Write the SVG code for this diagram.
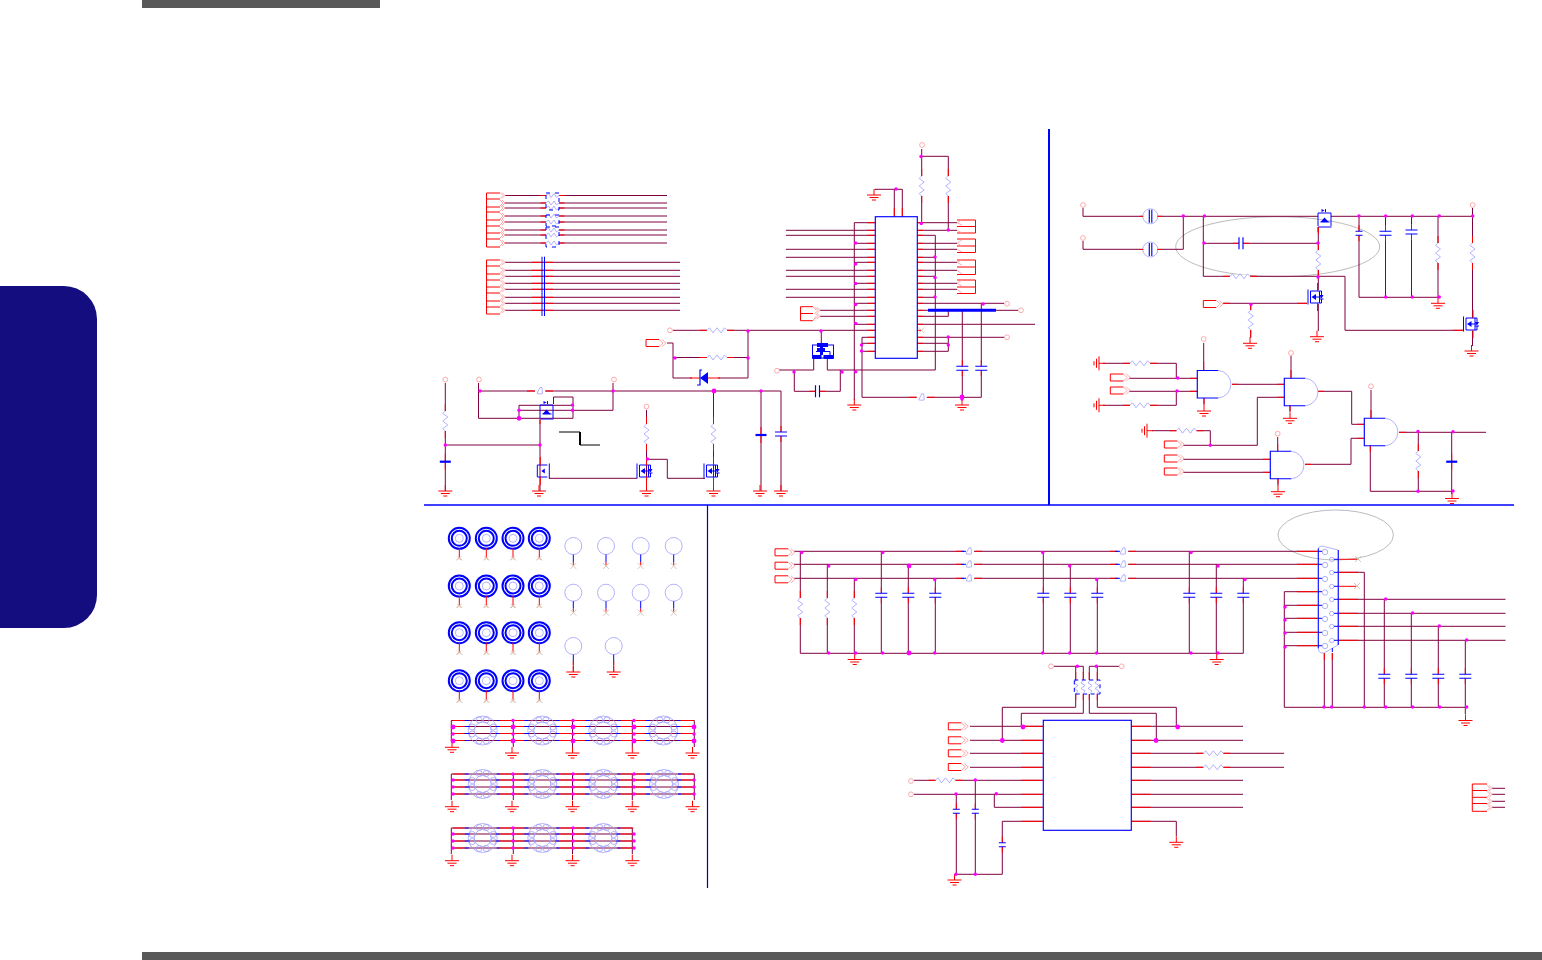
<svg xmlns="http://www.w3.org/2000/svg" width="1542" height="960" viewBox="0 0 1542 960">
<style>
.w{fill:none;stroke:#800040;stroke-width:1}
.r{fill:none;stroke:#f00;stroke-width:1}
.b{fill:none;stroke:#00f;stroke-width:1}
.bb{fill:none;stroke:#00f;stroke-width:1.15}
.p{fill:none;stroke:#a0a0ff;stroke-width:.8}
.g{fill:none;stroke:#aaa;stroke-width:.8}
.q{fill:none;stroke:#ffa0a0;stroke-width:.9}
.x{fill:none;stroke:#d8b8a8;stroke-width:.8}
.f{fill:#00f}
.d{fill:#f0f}
</style>
<defs>
<circle id="dot" r="1.7" class="d"/>
<circle id="big" r="2.4" class="d"/>
<circle id="pc" r="2.4" fill="#fff" class="q"/>
<g id="chev"><path class="q" d="M0-3L3 0L0 3M2-3L5 0L2 3"/></g>
<g id="port"><path class="r" d="M13-3.5H0V3.5H13"/><path class="q" d="M13-3.5L17 0L13 3.5M16-3.5L20 0L16 3.5"/></g>
<g id="gnd"><path class="r" d="M0-6V0M-7 0H7M-4.5 2.5H4.5M-2 5H2"/></g>
<g id="gndl"><path class="r" d="M6 0H0M0-7V7M-2.5-4.5V4.5M-5-2V2"/></g>
<g id="rh"><rect x="-10" y="-1.5" width="20" height="3" fill="#fff"/><path class="r" d="M-17 0H-10M10 0H17"/><path class="p" d="M-10 0L-7.5-2.5L-4 2.5L0-2.5L4 2.5L7.5-2.5L10 0"/></g>
<g id="rv"><rect x="-1.5" y="-10" width="3" height="20" fill="#fff"/><path class="r" d="M0-17V-10M0 10V17"/><path class="p" d="M0-10L-2.5-7.5L2.5-4L-2.5 0L2.5 4L-2.5 7.5L0 10"/></g>
<g id="rs"><rect x="-6.5" y="-1.5" width="13" height="3" fill="#fff"/><path class="r" d="M-12 0H-6.5M6.5 0H12"/><path class="p" d="M-6.5 0L-4-2L-1.5 2L1.5-2L4 2L6.5 0"/></g>
<g id="rp"><rect x="-1.5" y="-6.5" width="3" height="13" fill="#fff"/><path class="p" d="M0-6.5L-2-4L2-1.5L-2 1.5L2 4L0 6.5"/></g>
<g id="cv"><rect x="-1" y="-2" width="2" height="4" fill="#fff"/><path class="r" d="M0-8V-2M0 2V8"/><path class="bb" d="M-6-2H6M-6 2H6"/></g>
<g id="cvn"><rect x="-1" y="-2" width="2" height="4" fill="#fff"/><path class="r" d="M0-8V-2M0 2V8"/><path class="bb" d="M-3.5-2H3.5M-3.5 2H3.5"/></g>
<g id="ch"><rect x="-2" y="-1" width="4" height="2" fill="#fff"/><path class="r" d="M-8 0H-2M2 0H8"/><path class="bb" d="M-2-6V6M2-6V6"/></g>
<g id="cf"><path class="r" d="M0-8V8"/><path class="b" style="stroke-width:2.2" d="M-5.5 0H5.5"/></g>
<g id="fuse"><circle r="7.5" fill="#fff" class="p"/><path class="r" d="M-11 0H-7M7 0H12"/><path class="bb" d="M-1-6.5V6.5M1.5-6.5V6.5"/></g>
<g id="bead"><rect x="-5" y="-1.5" width="10" height="3" fill="#fff"/><path class="r" d="M-13 0H-8M6 0H13"/><path class="b" d="M-8 0H-3"/><path class="p" d="M-3 2.5L0-3.5L2-3.5L2.5 2.5Q0 3.5-3 2.5Z" fill="#fff"/></g>
<g id="beadp"><rect x="-5" y="-1.5" width="10" height="3" fill="#fff"/><path class="r" d="M-13 0H-5M6 0H13"/><path class="p" d="M-3 2.5L0-3.5L2-3.5L2.5 2.5Q0 3.5-3 2.5Z" fill="#fff"/></g>
<g id="mosn"><path class="b" d="M-9.5-7.5V7.5M-7-6H2V6H-7Z"/><path class="r" d="M0-14V-6M0 6V14"/><path class="f" d="M-6 0L-1.5-3V3ZM2-2H6L4 1.5Z"/><path class="b" d="M2 2H6M-2 0H4V-6H2M4 2V6H2"/></g>
<g id="mosl"><path class="b" d="M9-7.5V7.5M7-6H-3V6H7"/><path class="r" d="M0-14V-6M0 6V14"/><path class="f" d="M1 0L4.5-2.5V2.5Z"/></g>
<g id="mosp"><path class="b" d="M-6.5 7V-6H6.5V7M-6.5 8H7" fill="none"/><path class="f" d="M-3-10L0-8.5L-3-7ZM-4 3L0-1.5L4 3Z"/><path class="b" d="M1-10V-7M-4 3H5"/><path class="r" d="M-6.5 8V13"/></g>
<g id="x"><path class="x" d="M-3 3L3-3M-3-3L3 3"/></g>
<g id="hole"><circle r="10.5" class="b" style="stroke-width:2" fill="#fff"/><circle r="7.5" cx="0" cy="0" class="b" style="stroke-width:2"/><circle r="4" class="p"/><path class="r" d="M0 10V19"/><path class="x" d="M-3 22L0 19L3 22M-2 18L2 22M2 18L-2 22"/></g>
<g id="pad"><circle r="8.5" fill="#fff" class="p"/><path class="b" d="M0 8.5V16"/><path class="r" d="M0 16V19"/></g>
<g id="ring"><circle r="14.5" fill="#fff" class="p"/><circle r="8.5" class="p"/><circle cx="-10.5" cy="-3.5" r="3" class="p"/><circle cx="-10.5" cy="3.5" r="3" class="p"/><circle cx="10.5" cy="-3.5" r="3" class="p"/><circle cx="10.5" cy="3.5" r="3" class="p"/><circle cx="-3.5" cy="-10.5" r="3" class="p"/><circle cx="3.5" cy="-10.5" r="3" class="p"/><circle cx="-3.5" cy="10.5" r="3" class="p"/><circle cx="3.5" cy="10.5" r="3" class="p"/><path class="r" d="M-30-10H-18M17-10H30M-30-4H-18M17-4H30M-30 3H-18M17 3H30M-30 10H-18M17 10H30"/><path class="b" d="M-18-10H-14M14-10H17M-18-4H-13M13-4H17M-18 3H-13M13 3H17M-18 10H-14M14 10H17"/></g>
<g id="gate"><path class="bb" d="M21 0H0V27.5H21"/><path class="p" d="M21 0A13.8 13.8 0 0 1 21 27.5"/></g>
</defs>

<g id="page">
<rect x="142" y="0" width="238" height="8" fill="#595959"/>
<rect x="142" y="952" width="1400" height="8" fill="#595959"/>
<path id="tab" d="M0 286H64A33 33 0 0 1 97 319V595A33 33 0 0 1 64 628H0Z" fill="#130d80"/>
<path d="M1049 129V505" stroke="#00f" stroke-width="2" fill="none"/>
<path d="M424 505H1514" stroke="#00f" stroke-width="1.6" fill="none"/>
<path d="M707.5 505V888" stroke="#0000b0" stroke-width="1.2" fill="none"/>
<ellipse cx="1277.7" cy="246.7" rx="102" ry="30" class="g"/>
<ellipse cx="1335.7" cy="535" rx="57.7" ry="25" class="g"/>
<path d="M559 432H580V445H600" fill="none" stroke="#000" stroke-width="1"/><path d="M580 432V445" stroke="#000" stroke-width="2"/>
</g>

<g id="connectors">
<path class="w" d="M505 195.5H667M505 203H667M505 208H667M505 216H667M505 222H667M505 230H667M505 235H667M505 243H667M505 262.3H680M505 270.3H680M505 276.3H680M505 283.3H680M505 289.3H680M505 297.3H680M505 303.3H680M505 310.3H680M673 330.3H875M667 343H673V378H748V330.3M673 357.5H748M478.5 383V418.3H573V397H553.5V404M519 405.3H573M519 410.3H613V383M519 405.3V418.3M480 391H781V491M445.3 383V491M445 445H540M540 420V491M549 478.3H637M646.5 410V491M647 459.3H667.3V478.3H705M713.5 391V491M761 391V491"/>
<path class="w" d="M786 230.3H875M786 235.3H875M786 249.3H875M786 257.3H875M786 270.3H875M786 276.3H875M786 289.3H875M786 297.3H875M854.3 222.7V400M854.3 222.7H875M854.3 243.3H875M854.3 262.3H875M854.3 283.3H875M854.3 303.3H875M854.3 324.3H875M820 310.3H875M820 316.3H875M862 337.3V397.3H981.3V303.3M862 337.3H875M862 343.3H875M862 351.3H875M917 222.7H957M917 230.3H957M917 243.3H957M917 249.3H957M917 262.3H957M917 270.3H957M917 283.3H957M917 289.3H957M917 235.3H935.3V370H827.3V359M917 257.3H935.3M917 276.3H935.3M917 297.3H935.3M917 303.3H1004M917 310.3H1018M917 316.3H948.3V310.3M917 324.3H1035M917 337.3H1004M948.3 337.3V351.3M917 343.3H948.3M917 351.3H948.3M962.3 310.3V400M921.7 149V222.7M921.7 156.3H948.3V230.3M894.3 216.7V189.3M902.3 216.7V189.3H875V190M779 370H813.7V359M794.3 370V391.3H840.3V370M821.3 343V330.3"/>
<path class="w" d="M1083 208V216.3H1143M1083 241V249.3H1143M1158 216.3H1318M1158 249.3H1183.3V216.3M1203.3 216.3V276.3H1345V330.3H1464M1204 243.3H1318.3M1318.3 227V290M1223 303.3H1307M1250.7 303.3V338M1318.3 304V331M1331 216.3H1472.7M1359 216.3V297.3H1438M1385.5 216.3V297.3M1411.5 216.3V297.3M1438 216.3V298M1472.5 208V318M1472.5 331V346"/>
<path class="w" d="M1129 378.3H1197M1129 391.3H1197M1103 363.3H1176.3V378.3M1176.3 391.3V405.3H1103M1203.7 343V370M1204 398V405M1232 384.3H1284.3M1291 356V378.3M1290 405.7V412M1284.3 397.3H1257.3V445.3H1183M1152 430.7H1210.3V445.3M1183 459.3H1270.3M1183 472.3H1270.3M1277.7 437V451.3M1278 478.7V486M1305 464.3H1351V438.3H1364.3M1318 391.3H1351.7V424.3H1364.3M1371 390V418.3M1370.3 445.7V491.3H1451.7M1399 432.3H1486M1418.3 432.3V491.3M1451.7 432.3V494"/>
<path class="w" d="M451.3 720.5V741M513.3 720.5V747M572.5 720.5V747M632.3 720.5V747M694.3 720.5V747M451.3 720.5H694.3M451.3 726.5H694.3M451.3 733.5H694.3M451.3 740.5H694.3M451.3 774V800M513.3 774V800M572.5 774V800M632.3 774V800M694.3 774V800M451.3 774H694.3M451.3 780H694.3M451.3 787H694.3M451.3 794H694.3M451.3 828V854M513.3 828V854M572.5 828V854M632.3 828V854M451.3 828H632.3M451.3 834H632.3M451.3 841H632.3M451.3 848H632.3"/>
<path class="w" d="M794 551.3H1318M794 564.3H1318M794 578.3H1318M800.3 551.3V653.3H1243.3V578.3M827.3 564.3V653.3M854.3 578.3V653.3M881.3 551.3V653.3M908.3 564.3V653.3M935.3 578.3V653.3M1043.3 551.3V653.3M1070.3 564.3V653.3M1097.3 578.3V653.3M1189.3 551.3V653.3M1216.3 564.3V653.3M1284.3 591.7V707.3H1465.3M1284.3 591.7H1318M1284.3 605.3H1318M1284.3 618.3H1318M1284.3 632.3H1318M1284.3 645.7H1318M1324.3 653V707.3M1332.3 653V707.3M1338 572.3H1364.3V707.3M1338 599.3H1505.5M1338 613.3H1505.5M1338 626.3H1505.5M1338 640.3H1505.5M1384.3 599.3V707.3M1411.3 613.3V707.3M1438.3 626.3V707.3M1465.3 640.3V714M1492 788.3H1505M1492 794.3H1505M1492 801.3H1505M1492 807.3H1505"/>
<path class="w" d="M970 726.3H1043M970 740.3H1043M970 753.3H1043M970 767.3H1043M914 780.3H1043M914 794.3H1043M994.3 794.3V807.3H1043M956.3 794.3V874.3H1002.3V821.3H1043M975.3 780.3V874.3M1054 666.3H1083.3V680M1075.7 666.3V707.3H1002.3V740.3M1083.3 694V713.3H1021.3V726.3M1089.3 680V666.3H1119M1089.3 694V713.3H1156.3V740.3M1097.3 666.3V707.3H1176.3V726.3M1131 726.3H1243M1131 740.3H1243M1131 753.3H1284M1131 767.3H1284M1131 780.3H1243M1131 794.3H1243M1131 807.3H1243M1131 821.3H1176.3V836"/>
<path class="r" d="M867.3 222.7H875.3M867.3 230.3H875.3M867.3 235.3H875.3M867.3 243.3H875.3M867.3 249.3H875.3M867.3 257.3H875.3M867.3 262.3H875.3M867.3 270.3H875.3M867.3 276.3H875.3M867.3 283.3H875.3M867.3 289.3H875.3M867.3 297.3H875.3M867.3 303.3H875.3M867.3 310.3H875.3M867.3 316.3H875.3M867.3 324.3H875.3M867.3 330.3H875.3M867.3 337.3H875.3M867.3 343.3H875.3M867.3 351.3H875.3M917.3 222.7H923M917.3 230.3H923M917.3 235.3H923M917.3 243.3H923M917.3 249.3H923M917.3 257.3H923M917.3 262.3H923M917.3 270.3H923M917.3 276.3H923M917.3 283.3H923M917.3 289.3H923M917.3 297.3H923M917.3 303.3H923M917.3 310.3H923M917.3 316.3H923M917.3 324.3H923M917.3 337.3H923M917.3 343.3H923M917.3 351.3H923M917.3 330.3H921M894.3 208V216.7M902.3 208V216.7"/>
<path class="r" d="M532 262.3H553M532 270.3H553M532 276.3H553M532 283.3H553M532 289.3H553M532 297.3H553M532 303.3H553M532 310.3H553M1190 378.3H1197.3M1190 391.3H1197.3M1277 384.3H1284.3M1277 397.3H1284.3M1263 459.3H1270.3M1263 472.3H1270.3M1357 424.3H1364.3M1357 438.3H1364.3M1399 432.3H1406M1232 384.3H1238M1318 391.3H1324M1305 464.3H1311M1297 551.3H1318M1297 564.3H1318M1297 578.3H1318M1297 591.7H1318M1297 605.3H1318M1297 618.3H1318M1297 632.3H1318M1297 645.7H1318M1338 559.3H1358M1338 572.3H1358M1338 586.3H1356M1338 599.3H1358M1338 613.3H1358M1338 626.3H1358M1338 640.3H1358M1324.3 653V660M1332.3 653V660M1021 726.3H1043M1021 740.3H1043M1021 753.3H1043M1021 767.3H1043M1021 780.3H1043M1021 794.3H1043M1021 807.3H1043M1021 821.3H1043M1131 726.3H1150.7M1131 740.3H1150.7M1131 753.3H1150.7M1131 767.3H1150.7M1131 780.3H1150.7M1131 794.3H1150.7M1131 807.3H1150.7M1131 821.3H1150.7M1075.7 672V680M1083.3 672V680M1089.3 672V680M1097.3 672V680M1075.7 694V700M1083.3 694V700M1089.3 694V700M1097.3 694V700"/>
<path class="r" d="M1464 330.3H1453M1318.3 227V234M1203.7 362V370M1204 398V404M1291 370V378.3M1290 405.7V411M1277.7 444V451.3M1278 478.7V484M1371 410V418.3M1370.3 445.7V452M1307 303.3H1297M1223 303.3H1230"/>
</g>

<g id="components">
<path id="port-stack-1" class="r" d="M500 193H486.5V247H500M486.5 199H500M486.5 207H500M486.5 212H500M486.5 220H500M486.5 226H500M486.5 233H500M486.5 239H500"/>
<path id="port-stack-2" class="r" d="M500 260H486.5V314H500M486.5 266H500M486.5 274H500M486.5 280H500M486.5 287H500M486.5 293H500M486.5 301H500M486.5 307H500"/>
<use href="#chev" x="500" y="195.5"/><use href="#chev" x="500" y="203"/><use href="#chev" x="500" y="208"/><use href="#chev" x="500" y="216"/><use href="#chev" x="500" y="222"/><use href="#chev" x="500" y="230"/><use href="#chev" x="500" y="235"/><use href="#chev" x="500" y="243"/>
<use href="#chev" x="500" y="262.3"/><use href="#chev" x="500" y="270.3"/><use href="#chev" x="500" y="276.3"/><use href="#chev" x="500" y="283.3"/><use href="#chev" x="500" y="289.3"/><use href="#chev" x="500" y="297.3"/><use href="#chev" x="500" y="303.3"/><use href="#chev" x="500" y="310.3"/>
<use href="#rs" x="552.5" y="195.5"/><use href="#rs" x="552.5" y="203"/><use href="#rs" x="552.5" y="208"/><use href="#rs" x="552.5" y="216"/><use href="#rs" x="552.5" y="222"/><use href="#rs" x="552.5" y="230"/><use href="#rs" x="552.5" y="235"/><use href="#rs" x="552.5" y="243"/>
<path class="b" stroke-dasharray="4 5" d="M546 193H559V210H546ZM546 215H559V226H546ZM546 227H559V247H546Z"/>
<path class="b" d="M542 256.7V316M544.5 256.7V316"/>

<use href="#pc" x="445.3" y="379.5"/><use href="#pc" x="479" y="379.5"/><use href="#pc" x="614" y="379.5"/><use href="#pc" x="646.5" y="406.5"/><use href="#pc" x="670" y="330.3"/>
<use href="#port" x="646" y="343"/>
<use href="#rh" x="717" y="330.3"/><use href="#rh" x="717" y="357.5"/>
<use href="#rv" x="445.3" y="421"/><use href="#rv" x="646.5" y="434"/><use href="#rv" x="713.5" y="434"/>
<use href="#cf" x="445.3" y="461.7"/><use href="#cf" x="761" y="435"/>
<use href="#cv" x="781" y="434"/>
<use href="#beadp" x="540" y="391"/>
<g id="diode"><rect x="692" y="376" width="26" height="4" fill="#fff"/><path class="r" d="M690 378H700M708 378H720"/><path class="bb" d="M697 385H700V370H702"/><path class="f" d="M700 378L708 372V384Z"/></g>
<use href="#mosp" x="546.5" y="411"/>
<use href="#mosl" x="540.3" y="471"/><use href="#mosn" x="646.5" y="471"/><use href="#mosn" x="713.5" y="471"/>
<use href="#gnd" x="445.3" y="491"/><use href="#gnd" x="539" y="491"/><use href="#gnd" x="646.5" y="491"/><use href="#gnd" x="713.5" y="491"/><use href="#gnd" x="760" y="491"/><use href="#gnd" x="781" y="491"/>
<use href="#dot" x="480" y="391"/><use href="#dot" x="613" y="391"/><use href="#big" x="714" y="391"/><use href="#dot" x="761" y="391"/><use href="#dot" x="519" y="410.3"/><use href="#big" x="519" y="418.3"/><use href="#dot" x="572.5" y="405"/><use href="#dot" x="572.5" y="410.3"/><use href="#dot" x="445.3" y="445"/><use href="#dot" x="540" y="445"/><use href="#dot" x="647.5" y="459"/><use href="#dot" x="675" y="358"/><use href="#dot" x="748" y="331"/><use href="#dot" x="748" y="358"/><use href="#dot" x="821" y="331"/>

<rect id="ic-main" x="875.3" y="216.7" width="42" height="141.6" class="bb"/>
<path class="r" d="M813 306.7H800.5V320.7H813M800.5 313.5H813"/><use href="#chev" x="815" y="310.3"/><use href="#chev" x="815" y="316.3"/>
<path class="q" d="M813 306.7L816 310.3M813 320.7L816 316.3"/>
<g id="right-ports"><path class="r" d="M957 220H975.5V233H957M957 226.5H975.5M957 239H975.5V252.5H957M957 246H975.5M957 260H975.5V274.5H957M957 267H975.5M957 280H975.5V293.5H957M957 287H975.5"/><path class="q" d="M962 220L957 222.7L962 225M957 230.3L962 233M962 240L957 243.3L962 246M957 249.3L962 252M962 260L957 262.3L962 265M957 270.3L962 274M962 280L957 283.3L962 286M957 289.3L962 293"/></g>
<path d="M928 310.3H996" stroke="#00f" stroke-width="3" fill="none"/>
<use href="#pc" x="1007" y="303.7"/><use href="#pc" x="1021" y="310.3"/><use href="#pc" x="1007" y="337.3"/><use href="#pc" x="922" y="145"/><use href="#pc" x="777" y="370.7"/>
<use href="#x" x="921.5" y="330.3"/>
<use href="#rv" x="921.7" y="186"/><use href="#rv" x="948.3" y="186"/>
<use href="#cv" x="962.3" y="368.2"/><use href="#cv" x="981.3" y="368.2"/><use href="#ch" x="817.5" y="391.3"/>
<use href="#beadp" x="921.7" y="397.3"/>
<use href="#gnd" x="854.3" y="405"/><use href="#gnd" x="962" y="405"/><use href="#gnd" x="874" y="195"/>
<g id="mos-power"><rect x="812.5" y="345" width="21" height="13" fill="#fff" class="b"/><rect x="817" y="343" width="11" height="4" class="f"/><rect x="812.5" y="355" width="9" height="4" class="f"/><rect x="823.5" y="355" width="10" height="4" class="f"/><path class="b" d="M816 351.5H830V355"/><rect x="817" y="348" width="8" height="4" class="f"/><path class="f" d="M820 347H823V355H820Z"/></g>
<use href="#dot" x="921" y="156.5"/><use href="#dot" x="896" y="189"/><use href="#dot" x="921.3" y="223.5"/><use href="#dot" x="948.3" y="230"/>
<use href="#dot" x="855.7" y="243"/><use href="#dot" x="855.7" y="264"/><use href="#dot" x="855.7" y="283.5"/><use href="#dot" x="855.7" y="304.5"/><use href="#dot" x="855.7" y="323.5"/><use href="#dot" x="855.7" y="371.7"/><use href="#dot" x="861.5" y="345"/><use href="#dot" x="861.5" y="351"/>
<use href="#dot" x="935" y="257"/><use href="#dot" x="935" y="277.5"/><use href="#dot" x="935" y="297"/><use href="#dot" x="983" y="304"/><use href="#dot" x="948.3" y="337"/><use href="#dot" x="948.3" y="345"/><use href="#big" x="962" y="397"/><use href="#dot" x="962" y="399"/>
<use href="#dot" x="794" y="372"/><use href="#dot" x="842" y="372"/>

<use href="#pc" x="1083" y="205"/><use href="#pc" x="1083" y="238"/><use href="#pc" x="1472.7" y="205"/>
<use href="#fuse" x="1150.3" y="216.3"/><use href="#fuse" x="1150.3" y="249.5"/>
<use href="#ch" x="1241" y="243.3"/>
<use href="#rh" x="1240" y="276.3"/>
<use href="#rv" x="1318.3" y="260"/><use href="#rv" x="1250.7" y="320"/><use href="#rv" x="1438" y="253"/><use href="#rv" x="1472.5" y="253"/>
<use href="#mosp" x="1324.5" y="219"/>
<use href="#mosn" x="1317.5" y="297"/><use href="#mosn" x="1473" y="324"/>
<use href="#cvn" x="1359" y="233.2"/><use href="#cv" x="1385.5" y="233.2"/><use href="#cv" x="1411.5" y="232"/>
<use href="#port" x="1203.3" y="304"/>
<use href="#gnd" x="1250" y="343.3"/><use href="#gnd" x="1317" y="336.7"/><use href="#gnd" x="1438" y="303.3"/><use href="#gnd" x="1471.5" y="351"/>
<use href="#dot" x="1183.3" y="216"/><use href="#dot" x="1204.5" y="216"/><use href="#dot" x="1204" y="243"/><use href="#dot" x="1318" y="243"/><use href="#dot" x="1318" y="277"/><use href="#dot" x="1251" y="304.5"/><use href="#dot" x="1359" y="216"/><use href="#dot" x="1385.7" y="216"/><use href="#dot" x="1412.3" y="216"/><use href="#dot" x="1439.3" y="216"/><use href="#dot" x="1472.7" y="216"/><use href="#dot" x="1385.7" y="297"/><use href="#dot" x="1412.3" y="297"/><use href="#dot" x="1439.3" y="297"/>

<use id="gate-1" href="#gate" x="1197.3" y="370.5"/>
<use id="gate-2" href="#gate" x="1284.3" y="378.3"/>
<use id="gate-3" href="#gate" x="1270.3" y="451.3"/>
<use id="gate-4" href="#gate" x="1364.3" y="418.3"/>
<use href="#pc" x="1203.7" y="339"/><use href="#pc" x="1291" y="353"/><use href="#pc" x="1277.7" y="433.7"/><use href="#pc" x="1371" y="386.3"/>
<use href="#gndl" x="1099" y="363.3"/><use href="#gndl" x="1099" y="405.3"/><use href="#gndl" x="1147" y="430.7"/>
<use href="#rh" x="1140" y="363.3"/><use href="#rh" x="1140" y="405.3"/><use href="#rh" x="1186.5" y="430.7"/>
<use href="#port" x="1110.3" y="377.5"/><use href="#port" x="1110.3" y="390.5"/><use href="#port" x="1164.3" y="444.5"/><use href="#port" x="1164.3" y="458.5"/><use href="#port" x="1164.3" y="471.5"/>
<use href="#rv" x="1418.3" y="461"/><use href="#cf" x="1451.7" y="461.7"/>
<use href="#gnd" x="1204" y="411"/><use href="#gnd" x="1290" y="418.3"/><use href="#gnd" x="1278" y="491.7"/><use href="#gnd" x="1452" y="498.5"/>
<use href="#dot" x="1177.7" y="378"/><use href="#dot" x="1177" y="391"/><use href="#dot" x="1210.3" y="445.3"/><use href="#dot" x="1418" y="431.5"/><use href="#dot" x="1453" y="431.7"/><use href="#dot" x="1418" y="491.3"/><use href="#dot" x="1453" y="491"/>

<use href="#hole" x="459.3" y="538.3"/><use href="#hole" x="486.3" y="538.3"/><use href="#hole" x="513" y="538.3"/><use href="#hole" x="539.3" y="538.3"/>
<use href="#hole" x="459.3" y="586"/><use href="#hole" x="486.3" y="586"/><use href="#hole" x="513" y="586"/><use href="#hole" x="539.3" y="586"/>
<use href="#hole" x="459.3" y="632.7"/><use href="#hole" x="486.3" y="632.7"/><use href="#hole" x="513" y="632.7"/><use href="#hole" x="539.3" y="632.7"/>
<use href="#hole" x="459.3" y="680.7"/><use href="#hole" x="486.3" y="680.7"/><use href="#hole" x="513" y="680.7"/><use href="#hole" x="539.3" y="680.7"/>
<use href="#pad" x="573.3" y="546"/><use href="#pad" x="606" y="546"/><use href="#pad" x="640.7" y="546"/><use href="#pad" x="673.7" y="546"/>
<use href="#pad" x="573.3" y="592.7"/><use href="#pad" x="606" y="592.7"/><use href="#pad" x="640.7" y="592.7"/><use href="#pad" x="673.7" y="592.7"/>
<use href="#x" x="573.3" y="566"/><use href="#x" x="606" y="566"/><use href="#x" x="640.7" y="566"/><use href="#x" x="673.7" y="566"/>
<use href="#x" x="573.3" y="612.7"/><use href="#x" x="606" y="612.7"/><use href="#x" x="640.7" y="612.7"/><use href="#x" x="673.7" y="612.7"/>
<use href="#pad" x="573.3" y="646"/><use href="#pad" x="613.7" y="646"/>
<path class="r" d="M573.3 661V672M613.7 661V672"/>
<use href="#gnd" x="573.3" y="672"/><use href="#gnd" x="613.7" y="672"/>

<use href="#ring" x="482.7" y="730.5"/><use href="#ring" x="542.3" y="730.5"/><use href="#ring" x="603.3" y="730.5"/><use href="#ring" x="663.3" y="730.5"/>
<use href="#ring" x="482.7" y="784"/><use href="#ring" x="542.3" y="784"/><use href="#ring" x="603.3" y="784"/><use href="#ring" x="664" y="784"/>
<use href="#ring" x="482.7" y="838"/><use href="#ring" x="542.3" y="838"/><use href="#ring" x="603.3" y="838"/>
<use href="#gnd" x="452" y="747.3"/><use href="#gnd" x="512" y="753"/><use href="#gnd" x="572.5" y="753"/><use href="#gnd" x="632.3" y="753"/><use href="#gnd" x="692.5" y="753"/>
<use href="#gnd" x="452" y="806.7"/><use href="#gnd" x="512" y="806.7"/><use href="#gnd" x="572.5" y="806.7"/><use href="#gnd" x="632.3" y="806.7"/><use href="#gnd" x="692.5" y="806.7"/>
<use href="#gnd" x="452" y="860.7"/><use href="#gnd" x="512" y="860.7"/><use href="#gnd" x="572.5" y="860.7"/><use href="#gnd" x="632.3" y="860.7"/>
<use href="#big" x="453" y="727"/><use href="#dot" x="453" y="734"/><use href="#big" x="453" y="741"/>
<use href="#dot" x="513" y="720.5"/><use href="#big" x="513" y="727"/><use href="#dot" x="513" y="734"/><use href="#big" x="513" y="741"/>
<use href="#dot" x="573" y="720.5"/><use href="#big" x="573" y="727"/><use href="#dot" x="573" y="734"/><use href="#big" x="573" y="741"/>
<use href="#dot" x="634" y="720.5"/><use href="#big" x="634" y="727"/><use href="#dot" x="634" y="734"/><use href="#big" x="634" y="741"/>
<use href="#big" x="694" y="727"/><use href="#dot" x="694" y="734"/><use href="#big" x="694" y="741"/>
<use href="#dot" x="453" y="780"/><use href="#dot" x="453" y="787"/><use href="#dot" x="453" y="794"/><use href="#dot" x="513" y="774"/><use href="#dot" x="513" y="780"/><use href="#dot" x="513" y="787"/><use href="#dot" x="513" y="794"/><use href="#dot" x="573" y="774"/><use href="#dot" x="573" y="780"/><use href="#dot" x="573" y="787"/><use href="#dot" x="573" y="794"/><use href="#dot" x="634" y="774"/><use href="#dot" x="634" y="780"/><use href="#dot" x="634" y="787"/><use href="#dot" x="634" y="794"/><use href="#dot" x="694" y="780"/><use href="#dot" x="694" y="787"/><use href="#dot" x="694" y="794"/>
<use href="#dot" x="453" y="834"/><use href="#dot" x="453" y="841"/><use href="#dot" x="453" y="848"/><use href="#dot" x="513" y="828"/><use href="#dot" x="513" y="834"/><use href="#dot" x="513" y="841"/><use href="#dot" x="513" y="848"/><use href="#dot" x="573" y="828"/><use href="#dot" x="573" y="834"/><use href="#dot" x="573" y="841"/><use href="#dot" x="573" y="848"/><use href="#dot" x="634" y="834"/><use href="#dot" x="634" y="841"/><use href="#dot" x="634" y="848"/>

<use href="#port" x="775" y="552.3"/><use href="#port" x="775" y="565.7"/><use href="#port" x="775" y="579.3"/>
<use href="#rv" x="800.3" y="608"/><use href="#rv" x="827.3" y="608"/><use href="#rv" x="854.3" y="608"/>
<use href="#cv" x="881.3" y="595.3"/><use href="#cv" x="908.3" y="595.3"/><use href="#cv" x="935.3" y="595.3"/><use href="#cv" x="1043.3" y="595.3"/><use href="#cv" x="1070.3" y="595.3"/><use href="#cv" x="1097.3" y="595.3"/><use href="#cv" x="1189.3" y="595.3"/><use href="#cv" x="1216.3" y="595.3"/><use href="#cv" x="1243.3" y="595.3"/>
<use href="#bead" x="969" y="551.3"/><use href="#bead" x="969" y="564.3"/><use href="#bead" x="969" y="578.3"/><use href="#bead" x="1123" y="551.3"/><use href="#bead" x="1123" y="564.3"/><use href="#bead" x="1123" y="578.3"/>
<use href="#gnd" x="854.7" y="659.5"/><use href="#gnd" x="1216.7" y="659.5"/>
<use href="#dot" x="801.7" y="552.5"/><use href="#dot" x="828.7" y="566"/><use href="#dot" x="855.7" y="579.5"/><use href="#dot" x="882.7" y="552.5"/><use href="#big" x="909" y="566"/><use href="#dot" x="934.7" y="579.5"/><use href="#dot" x="1042.7" y="552.5"/><use href="#dot" x="1069.7" y="566"/><use href="#dot" x="1096.7" y="579.5"/><use href="#dot" x="1191" y="552.5"/><use href="#dot" x="1218" y="566"/><use href="#dot" x="1245" y="579.5"/>
<use href="#dot" x="828.7" y="653"/><use href="#dot" x="855.7" y="653"/><use href="#dot" x="882.7" y="653"/><use href="#big" x="909" y="653"/><use href="#dot" x="934.7" y="653"/><use href="#dot" x="1042.7" y="653"/><use href="#dot" x="1069.7" y="653"/><use href="#dot" x="1096.7" y="653"/><use href="#dot" x="1191" y="653"/><use href="#dot" x="1218" y="653"/>

<g id="connector-dsub">
<path class="p" d="M1318.3 549Q1319 546 1322 546L1338 550V645L1324 653H1321Q1318.3 652 1318.3 648Z" fill="#fff"/>
<path class="b" d="M1318.3 548.3V648.3M1338.3 550V645M1332.3 648V652"/>
<circle cx="1325" cy="552" r="2.7" class="p"/><circle cx="1325" cy="565" r="2.7" class="p"/><circle cx="1325" cy="579" r="2.7" class="p"/><circle cx="1325" cy="592.5" r="2.7" class="p"/><circle cx="1325" cy="606" r="2.7" class="p"/><circle cx="1325" cy="619" r="2.7" class="p"/><circle cx="1325" cy="633" r="2.7" class="p"/><circle cx="1325" cy="646" r="2.7" class="p"/><circle cx="1331.7" cy="559.5" r="2.2" class="p"/><circle cx="1331.7" cy="572.5" r="2.2" class="p"/><circle cx="1331.7" cy="586.5" r="2.2" class="p"/><circle cx="1331.7" cy="599.5" r="2.2" class="p"/><circle cx="1331.7" cy="613.5" r="2.2" class="p"/><circle cx="1331.7" cy="626.5" r="2.2" class="p"/><circle cx="1331.7" cy="640.5" r="2.2" class="p"/>
<path class="b" d="M1318 551.3H1322M1318 564.3H1322M1318 578.3H1322M1318 591.7H1322M1318 605.3H1322M1318 618.3H1322M1318 632.3H1322M1318 645.7H1322M1334 559.3H1338M1334 572.3H1338M1334 586.3H1338M1334 599.3H1338M1334 613.3H1338M1334 626.3H1338M1334 640.3H1338"/>
</g>
<use href="#x" x="1358" y="559"/><use href="#x" x="1357" y="586"/>
<use href="#cv" x="1384.3" y="676.3"/><use href="#cv" x="1411.3" y="676.3"/><use href="#cv" x="1438.3" y="676.3"/><use href="#cv" x="1465.3" y="676.3"/>
<use href="#gnd" x="1465.5" y="720.5"/>
<use href="#dot" x="1285" y="607"/><use href="#dot" x="1285" y="620"/><use href="#dot" x="1285" y="633"/><use href="#dot" x="1285" y="647"/>
<use href="#dot" x="1324" y="707"/><use href="#dot" x="1331.7" y="707"/><use href="#dot" x="1364.3" y="707"/><use href="#dot" x="1385.7" y="707"/><use href="#dot" x="1412.7" y="707"/><use href="#dot" x="1439.7" y="707"/><use href="#dot" x="1466.7" y="707"/>
<use href="#dot" x="1385.7" y="599"/><use href="#dot" x="1412.7" y="613"/><use href="#dot" x="1439.3" y="626"/><use href="#dot" x="1466.7" y="640"/>
<path id="port-stack-3" class="r" d="M1487 784H1472.3V811.3H1487M1472.3 790.5H1487M1472.3 797.3H1487M1472.3 803.5H1487"/>
<use href="#chev" x="1487" y="788.3"/><use href="#chev" x="1487" y="794.3"/><use href="#chev" x="1487" y="801.3"/><use href="#chev" x="1487" y="807.3"/>

<rect id="ic-lower" x="1043.3" y="720.3" width="88" height="110" class="bb"/>
<use href="#port" x="948.3" y="726.3"/><use href="#port" x="948.3" y="740.3"/><use href="#port" x="948.3" y="753.3"/><use href="#port" x="948.3" y="767"/>
<use href="#pc" x="911" y="781"/><use href="#pc" x="911" y="794.3"/><use href="#pc" x="1051" y="666.3"/><use href="#pc" x="1121.7" y="666.3"/>
<use href="#rh" x="945.5" y="780.3"/><use href="#rh" x="1213.3" y="753.3"/><use href="#rh" x="1213.3" y="767.3"/>
<use href="#cvn" x="956.3" y="811.3"/><use href="#cvn" x="975.3" y="811.3"/><use href="#cvn" x="1002.3" y="844.7"/>
<use href="#rp" x="1076" y="687"/><use href="#rp" x="1083" y="687"/><use href="#rp" x="1090" y="687"/><use href="#rp" x="1097" y="687"/>
<rect x="1074.3" y="680" width="25.7" height="14" class="b" stroke-dasharray="4 3.5"/>
<use href="#gnd" x="954.5" y="880"/><use href="#gnd" x="1176.3" y="842.3"/>
<use href="#big" x="1002.3" y="740.5"/><use href="#big" x="1023" y="727"/><use href="#big" x="1156" y="740.5"/><use href="#big" x="1177.7" y="727"/>
<use href="#dot" x="975.3" y="780"/><use href="#dot" x="956" y="794"/><use href="#dot" x="996.3" y="793.7"/><use href="#dot" x="956" y="874.3"/><use href="#dot" x="975.3" y="874.3"/><use href="#dot" x="1077.3" y="666.3"/><use href="#dot" x="1096.3" y="666.3"/>
</g>
</svg>
